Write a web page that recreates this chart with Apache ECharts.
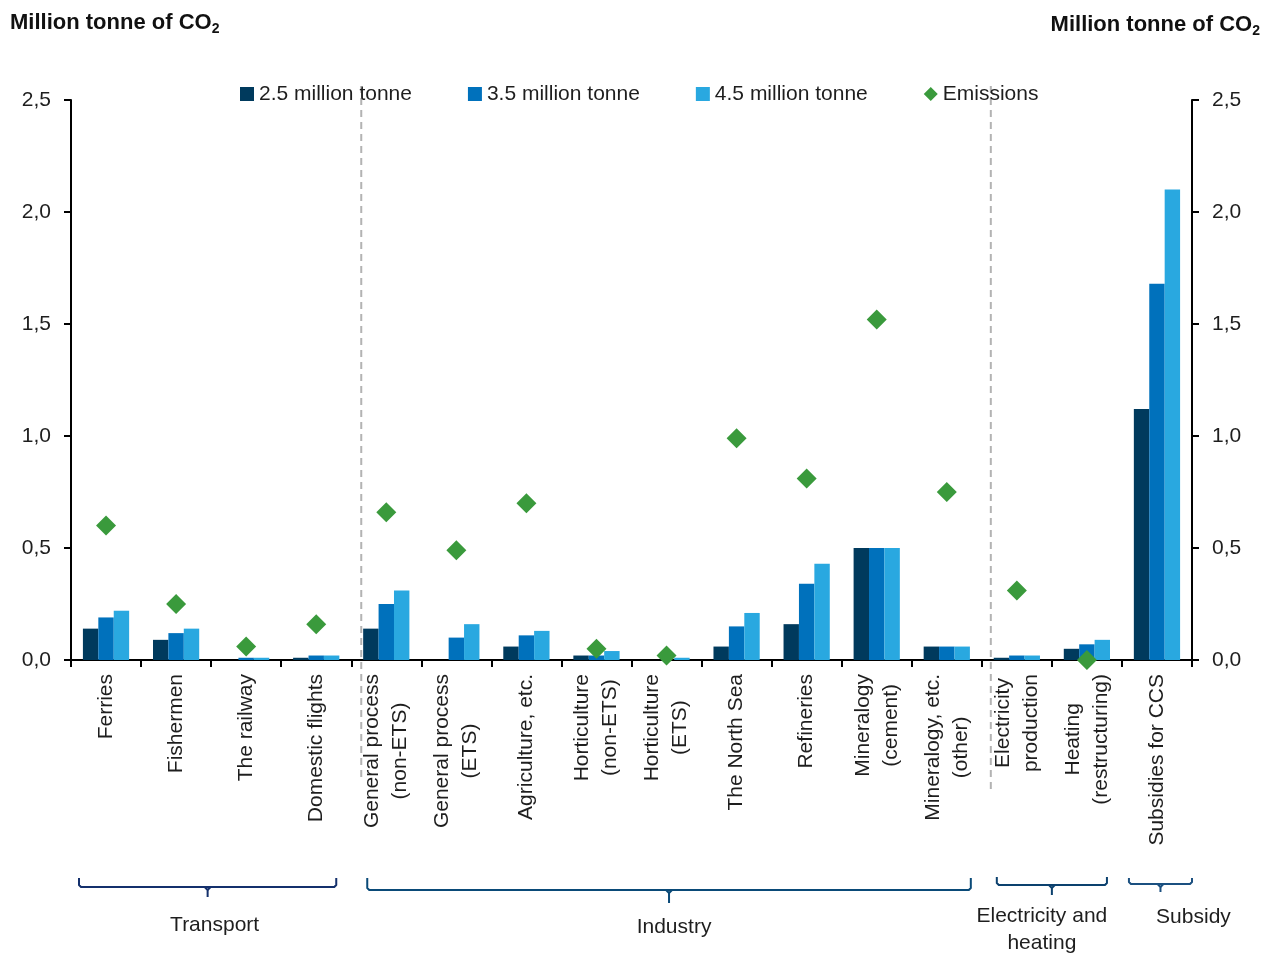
<!DOCTYPE html>
<html>
<head>
<meta charset="utf-8">
<script src="https://cdn.jsdelivr.net/npm/echarts@6/dist/echarts.min.js"></script>
<style>
  html, body { margin: 0; padding: 0; background: #ffffff; }
  #chart { width: 1269px; height: 956px; }
</style>
</head>
<body>
<div id="chart"></div>
<script>
// Measures and abatement potential per sector (million tonne CO2)
const categories = [
  'Ferries', 'Fishermen', 'The railway', 'Domestic flights',
  'General process\n(non-ETS)', 'General process\n(ETS)', 'Agriculture, etc.',
  'Horticulture\n(non-ETS)', 'Horticulture\n(ETS)', 'The North Sea', 'Refineries',
  'Mineralogy\n(cement)', 'Mineralogy, etc.\n(other)',
  'Electricity\nproduction', 'Heating\n(restructuring)', 'Subsidies for CCS'
];
const seriesNames = ['2.5 million tonne', '3.5 million tonne', '4.5 million tonne', 'Emissions'];
const cut25 = [0.14, 0.09, 0.00, 0.01, 0.14, 0.00, 0.06, 0.02, 0.00, 0.06, 0.16, 0.50, 0.06, 0.01, 0.05, 1.12];
const cut35 = [0.19, 0.12, 0.01, 0.02, 0.25, 0.10, 0.11, 0.02, 0.00, 0.15, 0.34, 0.50, 0.06, 0.02, 0.07, 1.68];
const cut45 = [0.22, 0.14, 0.01, 0.02, 0.31, 0.16, 0.13, 0.04, 0.01, 0.21, 0.43, 0.50, 0.06, 0.02, 0.09, 2.10];
const emissions = [0.60, 0.25, 0.06, 0.16, 0.66, 0.49, 0.70, 0.05, 0.02, 0.99, 0.81, 1.52, 0.75, 0.31, 0.00, null];
const yTicks = [0, 0.5, 1.0, 1.5, 2.0, 2.5];
const unitTitle = 'Million tonne of CO';
const groupNames = ['Transport', 'Industry', 'Electricity and\nheating', 'Subsidy'];
const groupFirst = [0, 4, 13, 15];
const groupLast = [3, 12, 14, 15];

// Layout of the bracket annotations under the axis
const bracketLayout = [
  { inL: 8,  inR: 15, y: 887, rise: 9,  tick: 10, labelDx: 7,   labelY: 925 },
  { inL: 16, inR: 11, y: 890, rise: 12, tick: 13, labelDx: 5,   labelY: 927 },
  { inL: 15, inR: 15, y: 885, rise: 8,  tick: 10, labelDx: -10, labelY: 930 },
  { inL: 7,  inR: 0,  y: 884, rise: 6,  tick: 8,  labelDx: 33,  labelY: 917 }
];
const bracketColors = ['#14306c', '#0a4a78', '#0c416e', '#1b5080'];

const FONT = "'Liberation Sans', Arial, Helvetica, sans-serif";
const TEXT = '#1e1e1e';
const COLORS = ['#003a5d', '#0071bc', '#29a8e0', '#3a9a3c'];

const chart = echarts.init(document.getElementById('chart'), null, { renderer: 'canvas' });

const fmt = v => v.toFixed(1).replace('.', ',');

const titleRich = {
  a: { fontFamily: FONT, fontSize: 22, fontWeight: 'bold', color: '#111', lineHeight: 26 },
  b: { fontFamily: FONT, fontSize: 14, fontWeight: 'bold', color: '#111', lineHeight: 26, verticalAlign: 'bottom', padding: [7, 0, 0, 0] }
};

const yAxisCommon = {
  type: 'value',
  min: yTicks[0],
  max: yTicks[yTicks.length - 1],
  interval: yTicks[1] - yTicks[0],
  axisLine: { show: true, lineStyle: { color: '#000', width: 2 } },
  axisTick: { show: true, length: 7, lineStyle: { color: '#000', width: 2 } },
  splitLine: { show: false },
  axisLabel: { formatter: fmt, fontFamily: FONT, fontSize: 21, color: TEXT, margin: 20 }
};

chart.setOption({
  backgroundColor: '#ffffff',
  animation: false,
  title: [
    { text: '{a|' + unitTitle + '}{b|2}', left: 10, top: 10, padding: 0, textStyle: { rich: titleRich } },
    { text: '{a|' + unitTitle + '}{b|2}', right: 9, top: 12, padding: 0, textStyle: { rich: titleRich } }
  ],
  legend: {
    left: 240,
    top: 83,
    padding: 0,
    itemGap: 56,
    itemWidth: 14,
    itemHeight: 14,
    icon: 'rect',
    textStyle: { fontFamily: FONT, fontSize: 21, color: TEXT, lineHeight: 22 },
    data: [
      { name: seriesNames[0] },
      { name: seriesNames[1] },
      { name: seriesNames[2] },
      { name: seriesNames[3], icon: 'diamond' }
    ]
  },
  grid: { left: 71, right: 77, top: 100, bottom: 296, containLabel: false },
  xAxis: {
    type: 'category',
    data: categories,
    boundaryGap: true,
    axisLine: { show: true, lineStyle: { color: '#000', width: 2 } },
    axisTick: { show: true, interval: 0, length: 7, lineStyle: { color: '#000', width: 2 } },
    axisLabel: {
      interval: 0,
      rotate: 90,
      margin: 14,
      formatter: v => v.split('\n').map(s => '{c|' + s + '}').join('\n'),
      rich: { c: { fontFamily: FONT, fontSize: 21, color: TEXT, align: 'center', lineHeight: 28 } }
    },
    splitLine: { show: false }
  },
  yAxis: [
    Object.assign({ position: 'left' }, yAxisCommon),
    Object.assign({ position: 'right' }, yAxisCommon)
  ],
  series: [
    { name: seriesNames[0], type: 'bar', data: cut25, barGap: '0%', barCategoryGap: '34%', itemStyle: { color: COLORS[0] }, z: 2 },
    { name: seriesNames[1], type: 'bar', data: cut35, barGap: '0%', barCategoryGap: '34%', itemStyle: { color: COLORS[1] }, z: 2 },
    { name: seriesNames[2], type: 'bar', data: cut45, barGap: '0%', barCategoryGap: '34%', itemStyle: { color: COLORS[2] }, z: 2 },
    { name: seriesNames[3], type: 'scatter', data: emissions, symbol: 'diamond', symbolSize: 20, itemStyle: { color: COLORS[3], opacity: 1 }, z: 5 }
  ]
});

// Separators between sector groups and the brackets with group names
function drawAnnotations() {
  const px = i => chart.convertToPixel({ xAxisIndex: 0 }, i);
  const band = px(1) - px(0);
  const left = i => px(i) - band / 2;
  const right = i => px(i) + band / 2;
  const graphics = [];

  const dash = { stroke: '#b3b3b3', lineWidth: 2, lineDash: [7, 5] };
  graphics.push({ type: 'line', z: 0, silent: true, shape: { x1: right(groupLast[0]) + 10, y1: 86, x2: right(groupLast[0]) + 10, y2: 779 }, style: dash });
  graphics.push({ type: 'line', z: 0, silent: true, shape: { x1: right(groupLast[1]) + 9, y1: 86, x2: right(groupLast[1]) + 9, y2: 790 }, style: dash });

  groupNames.forEach((name, g) => {
    const L = bracketLayout[g];
    const x1 = left(groupFirst[g]) + L.inL;
    const x2 = right(groupLast[g]) - L.inR;
    const mid = (x1 + x2) / 2;
    const y = L.y;
    const stroke = { fill: null, stroke: bracketColors[g], lineWidth: 2, lineJoin: 'round' };
    graphics.push({
      type: 'polyline', silent: true,
      shape: { points: [[x1, y - L.rise], [x1, y - 2], [x1 + 2, y], [x2 - 2, y], [x2, y - 2], [x2, y - L.rise]] },
      style: stroke
    });
    graphics.push({
      type: 'polyline', silent: true,
      shape: { points: [[mid - 3, y], [mid, y + 3], [mid, y + L.tick]] },
      style: stroke
    });
    graphics.push({
      type: 'polyline', silent: true,
      shape: { points: [[mid + 3, y], [mid, y + 3]] },
      style: stroke
    });
    graphics.push({
      type: 'text', silent: true,
      x: mid + L.labelDx, y: L.labelY,
      style: {
        text: name, fontFamily: FONT, fontSize: 21, fill: TEXT,
        align: 'center', verticalAlign: 'middle', lineHeight: 27
      }
    });
  });

  chart.setOption({ graphic: graphics });
}
drawAnnotations();
</script>
</body>
</html>
